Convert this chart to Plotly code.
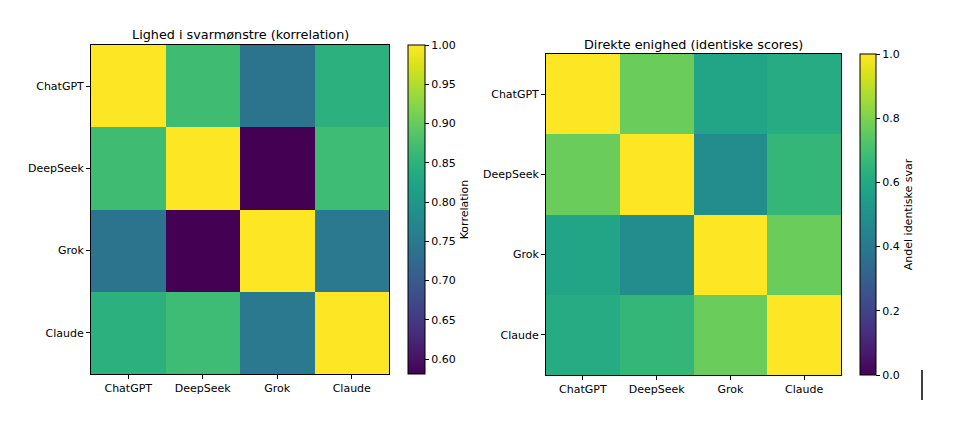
import plotly.graph_objects as go

models = ['ChatGPT', 'DeepSeek', 'Grok', 'Claude']

# correlation between answer patterns
korrelation = [
    [1.000, 0.870, 0.739, 0.847],
    [0.870, 1.000, 0.581, 0.868],
    [0.739, 0.581, 1.000, 0.749],
    [0.847, 0.868, 0.749, 1.000],
]

# share of identical scores
enighed = [
    [1.00, 0.77, 0.58, 0.61],
    [0.77, 1.00, 0.48, 0.66],
    [0.58, 0.48, 1.00, 0.77],
    [0.61, 0.66, 0.77, 1.00],
]

corr_ticks = [0.60, 0.65, 0.70, 0.75, 0.80, 0.85, 0.90, 0.95, 1.00]
agree_ticks = [0.0, 0.2, 0.4, 0.6, 0.8, 1.0]

# matplotlib-like viridis with finer stops
viridis_hex = ['#440154', '#48186a', '#472d7b', '#424086', '#3b528b', '#33638d',
               '#2c728e', '#26828e', '#21918c', '#1fa088', '#28ae80', '#3fbc73',
               '#5ec962', '#84d44b', '#addc30', '#d8e219', '#fde725']
viridis = [[i / (len(viridis_hex) - 1), c] for i, c in enumerate(viridis_hex)]

# page body has an 8px margin, so the figure sits at (8, 8) in the window
OFF = 8
W, H = 963 - 2 * OFF, 436 - 2 * OFF
FONT = 'DejaVu Sans'
TICK = 11
TITLE = 12.8


def px_x(v):
    return (v - OFF) / W


def px_y(v):
    return 1 - (v - OFF) / H


fig = go.Figure()

fig.add_trace(go.Heatmap(
    z=korrelation, x=models, y=models,
    colorscale=viridis, zmax=1.0,
    xaxis='x', yaxis='y',
    colorbar=dict(
        x=px_x(408), xanchor='left', xpad=0, ypad=0,
        y=(px_y(374) + px_y(45)) / 2, yanchor='middle',
        thickness=17, len=329, lenmode='pixels',
        outlinewidth=1, outlinecolor='black',
        tickvals=corr_ticks, ticktext=[f'{t:.2f}' for t in corr_ticks],
        ticks='outside', ticklen=4, tickcolor='black',
        tickfont=dict(family=FONT, size=TICK, color='black'),
        title=dict(text='Korrelation', side='right',
                   font=dict(family=FONT, size=TICK, color='black')),
    ),
))

fig.add_trace(go.Heatmap(
    z=enighed, x=models, y=models,
    colorscale=viridis, zmin=0.0, zmax=1.0,
    xaxis='x2', yaxis='y2',
    colorbar=dict(
        x=px_x(860), xanchor='left', xpad=0, ypad=0,
        y=(px_y(375) + px_y(54)) / 2, yanchor='middle',
        thickness=16, len=321, lenmode='pixels',
        outlinewidth=1, outlinecolor='black',
        tickvals=agree_ticks, ticktext=[f'{t:.1f}' for t in agree_ticks],
        ticks='outside', ticklen=4, tickcolor='black',
        tickfont=dict(family=FONT, size=TICK, color='black'),
        title=dict(text='Andel identiske svar', side='right',
                   font=dict(family=FONT, size=TICK, color='black')),
    ),
))

axis_style = dict(
    showline=True, linecolor='black', linewidth=1, mirror=True,
    ticks='outside', ticklen=4, tickcolor='black',
    tickfont=dict(family=FONT, size=TICK, color='black'),
    showgrid=False, zeroline=False, fixedrange=True, automargin=False,
)

fig.update_layout(
    width=W, height=H,
    margin=dict(l=0, r=0, t=0, b=0),
    paper_bgcolor='white', plot_bgcolor='white',
    showlegend=False,
    xaxis=dict(domain=[px_x(91), px_x(389)], anchor='y', **axis_style),
    yaxis=dict(domain=[px_y(374), px_y(45)], anchor='x',
               autorange='reversed', **axis_style),
    xaxis2=dict(domain=[px_x(546), px_x(841)], anchor='y2', **axis_style),
    yaxis2=dict(domain=[px_y(375), px_y(54)], anchor='x2',
                autorange='reversed', **axis_style),
    annotations=[
        dict(text='Lighed i svarmønstre (korrelation)', x=px_x(240), y=px_y(34),
             xref='paper', yref='paper', xanchor='center', yanchor='middle',
             showarrow=False, font=dict(family=FONT, size=TITLE, color='black')),
        dict(text='Direkte enighed (identiske scores)', x=px_x(693), y=px_y(44),
             xref='paper', yref='paper', xanchor='center', yanchor='middle',
             showarrow=False, font=dict(family=FONT, size=TITLE, color='black')),
    ],
    shapes=[
        dict(type='line', xref='paper', yref='paper',
             x0=px_x(922), x1=px_x(922), y0=px_y(370), y1=px_y(400),
             line=dict(color='black', width=1.5)),
    ],
)

fig.write_html('out.html')
